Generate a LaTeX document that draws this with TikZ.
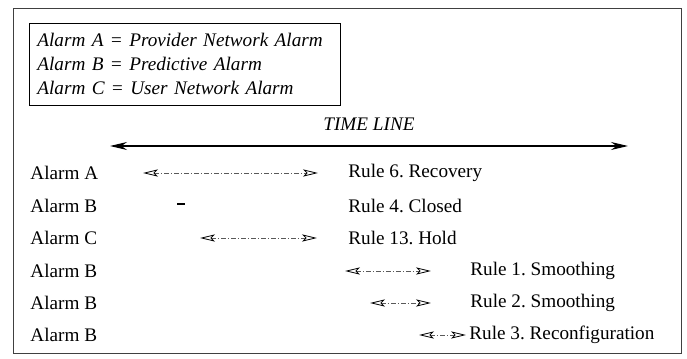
\documentclass[tikz,border=0pt]{standalone}
\usepackage{fontspec}
\setmainfont{Liberation Serif}
\usetikzlibrary{arrows.meta,positioning}

\begin{document}
\frenchspacing
\begin{tikzpicture}[x=0.5pt,y=-0.5pt,font=\fontsize{9.6}{12}\selectfont,
  span/.style={draw=gray!70!black,dash pattern=on 2.4pt off 1pt on 0.6pt off 1pt,
    {Stealth[open,length=7.5pt,width=3.6pt,inset=1.8pt,black]}-{Stealth[open,length=7.5pt,width=3.6pt,inset=1.8pt,black]}},
  alarm/.style={anchor=west,inner sep=0pt},
  rulelbl/.style={anchor=west,inner sep=0pt}]
\useasboundingbox (0,0) rectangle (687,359);
\draw[gray!50!black] (13,8) rectangle (681,353);
\node[draw,anchor=north west,align=left,font=\fontsize{9.6}{12}\selectfont\itshape,
  text width=147.5pt,inner xsep=4pt,minimum height=41pt] (legend) at (29,23)
  {Alarm A = Provider Network Alarm\\Alarm B = Predictive Alarm\\Alarm C = User Network Alarm};

% time axis
\coordinate (tl) at (110,146);
\coordinate (tr) at (628,146);
\draw[semithick,{Stealth[length=8.5pt,width=4pt]}-{Stealth[length=8.5pt,width=4pt]}] (tl) -- (tr)
  node[midway,above=4pt,font=\fontsize{9.6}{12}\selectfont\itshape] (tline) {TIME LINE};

% alarms on the left
\foreach \n/\y/\a in {1/173/A,2/206/B,3/238/C,4/271/B,5/303/B,6/335/B}
  \node[alarm] (al\n) at (30,\y) {Alarm \a};

% rules applied
\node[rulelbl] (ru1) at (348,173) {Rule 6. Recovery};
\node[rulelbl] (ru2) at (348,206) {Rule 4. Closed};
\node[rulelbl] (ru3) at (348,238) {Rule 13. Hold};
\node[rulelbl] (ru4) at (470,271) {Rule 1. Smoothing};
\node[rulelbl] (ru5) at (470,303) {Rule 2. Smoothing};
\node[rulelbl] (ru6) at (469,335) {Rule 3. Reconfiguration};

% alarm durations
\coordinate (s1) at (143,173); \coordinate (e1) at (318,173);
\coordinate (s2) at (177,204); \coordinate (e2) at (185,204);
\coordinate (s3) at (200,238); \coordinate (e3) at (317,238);
\coordinate (s4) at (345,271); \coordinate (e4) at (431,271);
\coordinate (s5) at (370,303); \coordinate (e5) at (431,303);
\coordinate (s6) at (419,335); \coordinate (e6) at (466,335);
\foreach \n in {1,3,4,5,6}
  \draw[span] (s\n) -- (e\n);
\draw[line width=0.8pt] (s2) -- (e2);
\end{tikzpicture}
\end{document}
